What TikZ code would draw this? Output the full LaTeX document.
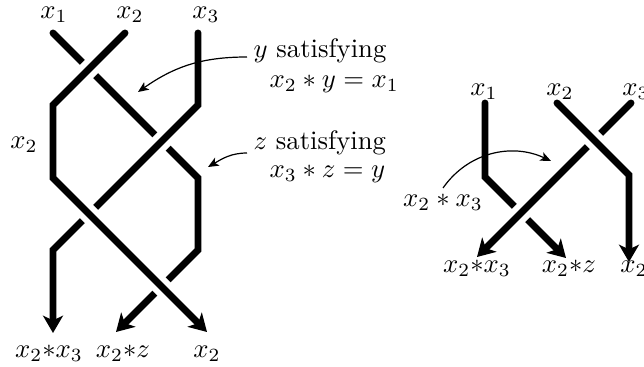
\documentclass[tikz,border=0pt]{standalone}
\usetikzlibrary{arrows.meta}
\begin{document}
\begin{tikzpicture}[x=0.375pt,y=-0.375pt,
  strand/.style={line width=2.6pt, line cap=round, line join=miter,
    -{Stealth[length=6.5pt,width=7.5pt,inset=1.8pt]}},
  halo/.style={line width=7pt, draw=white, line cap=butt},
  note/.style={line width=0.45pt, -{Stealth[length=4pt,width=3.4pt,inset=1pt]}},
  lab/.style={anchor=base, inner sep=0pt},
  txt/.style={anchor=base west, inner sep=0pt}]
\useasboundingbox (0,0) rectangle (644,367);
% ---------- left braid ----------
\coordinate (L1a) at (53,33);  \coordinate (L1b) at (198,178);
\coordinate (L1c) at (198,250); \coordinate (L1d) at (116,332);
\coordinate (L2a) at (125,33); \coordinate (L2b) at (53,105);
\coordinate (L2c) at (53,178); \coordinate (L2d) at (207,332);
\coordinate (L3a) at (198,33); \coordinate (L3b) at (198,105);
\coordinate (L3c) at (53,250); \coordinate (L3d) at (53,333);
\draw[strand] (L1a) -- (L1b) -- (L1c) -- (L1d);
\draw[halo] (L3a) -- (L3b) -- (L3c) -- (L3d);
\draw[strand] (L3a) -- (L3b) -- (L3c) -- (L3d);
\draw[halo] (L2a) -- (L2b) -- (L2c) -- (L2d);
\draw[strand] (L2a) -- (L2b) -- (L2c) -- (L2d);
% ---------- right braid ----------
\coordinate (R1a) at (485,103); \coordinate (R1b) at (485,177);
\coordinate (R1c) at (566,258);
\coordinate (R2a) at (557,103); \coordinate (R2b) at (629,175);
\coordinate (R2c) at (629,262);
\coordinate (R3a) at (631,103); \coordinate (R3b) at (477,257);
\draw[strand] (R1a) -- (R1b) -- (R1c);
\draw[halo] (R3a) -- (R3b);
\draw[strand] (R3a) -- (R3b);
\draw[halo] (R2a) -- (R2b) -- (R2c);
\draw[strand] (R2a) -- (R2b) -- (R2c);
% ---------- labels left ----------
\node[lab] (lt1) at (54,18.5) {$x_1$};
\node[lab] (lt2) at (130,18.5) {$x_2$};
\node[lab] (lt3) at (206,18.5) {$x_3$};
\node[lab] (lside) at (24,149) {$x_2$};
\node[lab] (lb1) at (49,358) {$x_2{*}x_3$};
\node[lab] (lb2) at (123,358) {$x_2{*}z$};
\node[lab] (lb3) at (207,358) {$x_2$};
\node[txt] (ysat) at (253,58) {$y$ satisfying};
\node[txt] (yeq) at (269,88) {$x_2*y=x_1$};
\node[txt] (zsat) at (253,150) {$z$ satisfying};
\node[txt] (zeq) at (269,178) {$x_3*z=y$};
\coordinate (ya) at (247,57); \coordinate (yt) at (138,92);
\coordinate (za) at (247,153); \coordinate (zt) at (208,167);
\draw[note] (ya) to[out=180,in=35] (yt);
\draw[note] (za) to[out=180,in=30] (zt);
% ---------- labels right ----------
\node[lab] (rt1) at (484,96) {$x_1$};
\node[lab] (rt2) at (560,96) {$x_2$};
\node[lab] (rt3) at (636,96) {$x_3$};
\node[lab] (rb1) at (477,273) {$x_2{*}x_3$};
\node[lab] (rb2) at (569,273) {$x_2{*}z$};
\node[lab] (rb3) at (634,273) {$x_2$};
\node[lab] (rnote) at (443,207) {$x_2*x_3$};
\coordinate (ra) at (443,188); \coordinate (rt) at (551,161);
\draw[note] (ra) to[out=55,in=155] (rt);
\end{tikzpicture}
\end{document}
